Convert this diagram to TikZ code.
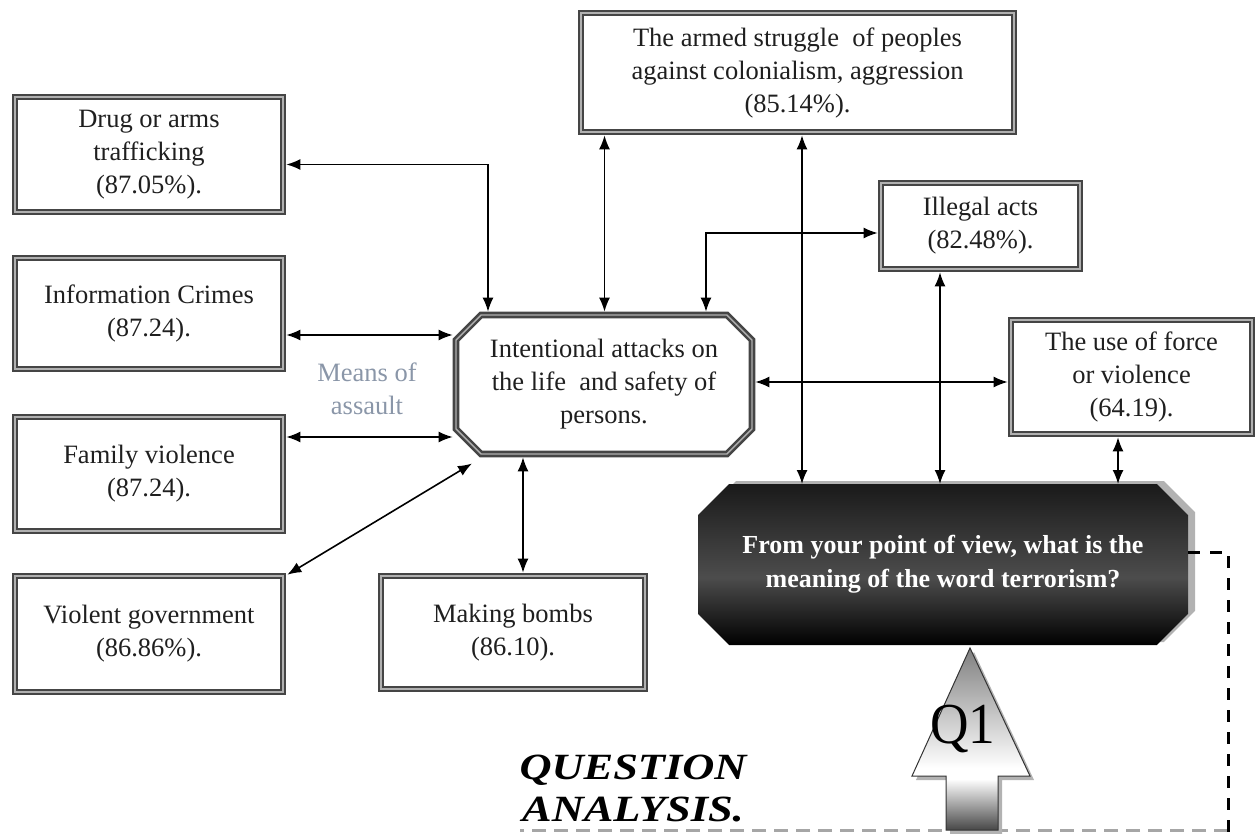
\documentclass[tikz,border=0pt]{standalone}
\usepackage{fontspec}
\setmainfont{Liberation Serif}
\newfontfamily\titlefont[FakeStretch=1.2]{Liberation Serif}
\usetikzlibrary{arrows.meta,shapes.misc,shadows}

\definecolor{framedark}{HTML}{454545}
\definecolor{framelight}{HTML}{B0B0B0}
\definecolor{meanscol}{HTML}{8A96A8}

% vertical shading for the block arrow: dark foot, white waist, grey tip
\pgfdeclareverticalshading{qarrowshade}{100bp}{%
  color(0bp)=(black!72); color(25bp)=(black!72); color(39bp)=(white);
  color(42bp)=(white); color(75bp)=(black!50); color(100bp)=(black!50)}
% dark question box: black rim, lighter band across the middle
\pgfdeclareverticalshading{qboxshade}{100bp}{%
  color(0bp)=(black); color(25bp)=(black); color(46bp)=(black!70);
  color(75bp)=(black!90); color(100bp)=(black!90)}

\begin{document}
\begin{tikzpicture}[x=1pt,y=-1pt,
  txt/.style={font=\fontsize{26.5}{33}\selectfont, text=black!88, align=center},
  box/.style={txt, draw=framedark, double=framelight, double distance=1.4pt,
    line width=2.6pt, fill=white, inner sep=0pt, outer sep=3.3pt},
  octbox/.style={box, chamfered rectangle, chamfered rectangle xsep=22pt},
  darkbox/.style={chamfered rectangle, chamfered rectangle xsep=28pt,
    shading=qboxshade, inner sep=0pt, outer sep=0pt, align=center,
    text=white, font=\fontsize{26}{34}\selectfont\bfseries,
    drop shadow={shadow xshift=7pt, shadow yshift=3pt, fill=black!30, opacity=1}},
  link/.style={line width=1.6pt, black,
    {Latex[length=14pt,width=11pt]}-{Latex[length=14pt,width=11pt]}},
  blackdash/.style={line width=3pt, black, dash pattern=on 12pt off 10pt},
  greydash/.style={line width=3pt, black!35, dash pattern=on 14pt off 8pt}
]
\useasboundingbox (0,0) rectangle (1257,834);

% ---- boxes ----
\node[box, minimum width=268, minimum height=115] (drug) at (149,154.5)
  {Drug or arms\\ trafficking\\ (87.05\%).};
\node[box, minimum width=268, minimum height=111] (info) at (149,313.5)
  {Information Crimes\\ (87.24).};
\node[box, minimum width=268, minimum height=114] (family) at (149,474)
  {Family violence\\ (87.24).};
\node[box, minimum width=268, minimum height=116] (violent) at (149,634)
  {Violent government\\ (86.86\%).};
\node[box, minimum width=264, minimum height=113] (bombs) at (513,632.5)
  {Making bombs\\ (86.10).};
\node[box, minimum width=433, minimum height=119] (armed) at (797.5,72.5)
  {The armed struggle\ \ of peoples\\ against colonialism, aggression\\ (85.14\%).};
\node[box, minimum width=199, minimum height=86] (illegal) at (980.5,226)
  {Illegal acts\\ (82.48\%).};
\node[box, minimum width=241, minimum height=114] (force) at (1131.5,377)
  {The use of force\\ or violence\\ (64.19).};
\node[octbox, minimum width=296, minimum height=139] (oct) at (604,384.5)
  {Intentional attacks on\\ the life\ \ and safety of\\ persons.};

\node[darkbox, minimum width=490, minimum height=161] (dark) at (943,564.5)
  {From your point of view, what is the\\ meaning of the word terrorism?};

\node[txt, text=meanscol] (means) at (367,389) {Means of\\ assault};

% ---- connectors ----
\draw[link] ([yshift=-10pt]drug.east) -| ([xshift=-116pt]oct.north);
\draw[link] ([yshift=-21.5pt]info.east) -- ([yshift=49.5pt]oct.west);
\draw[link] ([yshift=37pt]family.east) -- ([yshift=-52.5pt]oct.west);
\draw[link] ([xshift=1pt,yshift=-2pt]violent.north east) -- ([shift={(-132,79)}]oct.center);
\draw[link] ([xshift=10pt]bombs.north) -- ([xshift=-81pt]oct.south);
\draw[link] ([xshift=-193pt]armed.south) -- ([xshift=0.5pt]oct.north);
\draw[link] ([yshift=-7pt]illegal.west) -| ([xshift=102pt]oct.north);
\draw[link] ([yshift=2.5pt]oct.east) -- ([yshift=-5pt]force.west);
\draw[link] ([xshift=4.5pt]armed.south) -- ([xshift=-141pt]dark.north);
\draw[link] ([xshift=-40.5pt]illegal.south) -- ([xshift=-3pt]dark.north);
\draw[link] ([xshift=-13.5pt]force.south) -- ([xshift=175pt]dark.north);

% ---- dashed frame on the right and bottom ----
\coordinate (frameBR) at (1228,834);
\coordinate (baseR) at (1228,830);
\coordinate (baseL) at (520,830);
\draw[greydash] (baseR) -- (baseL);
\draw[blackdash] ([yshift=12.5pt]dark.east) -| (frameBR);

% ---- Q1 block arrow ----
\fill[black!30] (974,652) -- (1034,780) -- (1002,780) -- (1002,834)
  -- (950,834) -- (950,780) -- (916,780) -- cycle;
\path[shading=qarrowshade, draw=black!80, line width=1pt]
  (970,648) -- (1030,776) -- (998,776) -- (998,830)
  -- (946,830) -- (946,776) -- (912,776) -- cycle;
\node[font=\fontsize{58}{58}\selectfont, text=black, inner sep=0pt,
  xscale=0.92] (q1) at (963,729) {Q1};

% ---- caption ----
\node[font=\titlefont\fontsize{37}{42}\selectfont\bfseries\itshape, align=center,
  text=black, inner sep=0pt] (caption) at (633,789) {QUESTION\\ ANALYSIS.};
\end{tikzpicture}
\end{document}
